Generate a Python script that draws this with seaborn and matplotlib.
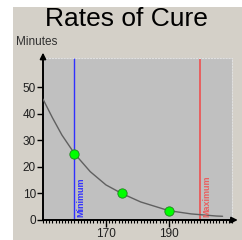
import matplotlib
matplotlib.use("Agg")
import matplotlib.pyplot as plt
import seaborn as sns
from matplotlib.patches import Rectangle
from matplotlib.ticker import MultipleLocator

# curve (temperature vs minutes)
curve_temp = [150, 153, 156, 160, 165, 170, 175, 181, 190, 197, 205, 207]
curve_minutes = [45.5, 38.5, 32, 25, 18.2, 13.2, 10, 6.8, 3.5, 2.3, 1.5, 1.4]

# measured points
point_temp = [160, 175, 190]
point_minutes = [25, 10, 3.5]

min_temp = 160
max_temp = 200

sns.set_style("white")
plt.rcParams["font.family"] = ["Liberation Sans", "DejaVu Sans"]

fig = plt.figure(figsize=(2.42, 2.40), dpi=100, facecolor="white")
fig.patches.append(Rectangle((13 / 242, 0), 1, 1 - 7 / 240, transform=fig.transFigure,
                             facecolor="#d4d0c8", edgecolor="none", zorder=-10))
ax = fig.add_axes([43 / 242, 1 - 220 / 240, (232 - 43) / 242, (220 - 58) / 240])
ax.set_facecolor("#c0c0c0")

sns.lineplot(x=curve_temp, y=curve_minutes, ax=ax, color="#606060", linewidth=1.0, zorder=3)
sns.scatterplot(x=point_temp, y=point_minutes, ax=ax, color="#00ff00", edgecolor="#208020",
                s=45, linewidth=0.6, zorder=5)

ax.axvline(min_temp, color="#3030ff", linewidth=1.0, zorder=2)
ax.axvline(max_temp, color="#e86060", linewidth=1.4, zorder=2)
ax.text(min_temp + 0.6, 1.0, "Minimum", rotation=90, color="#3030ff", fontsize=6.5,
        fontweight="bold", ha="left", va="bottom")
ax.text(max_temp + 0.6, 1.0, "Maximum", rotation=90, color="#e86060", fontsize=6.5,
        fontweight="bold", ha="left", va="bottom")

ax.set_xlim(150, 210)
ax.set_ylim(0, 61)
ax.set_xticks([170, 190])
ax.xaxis.set_minor_locator(MultipleLocator(1))
ax.set_yticks([0, 10, 20, 30, 40, 50])
ax.tick_params(axis="both", which="major", labelsize=8.5, color="black", direction="out",
               length=4, width=1, pad=1, labelcolor="#202020")
ax.tick_params(axis="x", which="minor", direction="out", length=2.5, width=0.8, color="black",
               bottom=True)
ax.tick_params(axis="x", which="major", length=5, bottom=True)
ax.tick_params(axis="y", which="major", left=True)

for side in ["left", "bottom"]:
    ax.spines[side].set_color("black")
    ax.spines[side].set_linewidth(1.4)
for side in ["top", "right"]:
    ax.spines[side].set_color("#e0e0e0")
    ax.spines[side].set_linestyle(":")
    ax.spines[side].set_linewidth(0.8)

# axis arrows
ax.annotate("", xy=(0, 1.05), xytext=(0, 0.99), xycoords="axes fraction",
            arrowprops=dict(arrowstyle="-|>", color="black", lw=1.2, mutation_scale=9),
            annotation_clip=False)
ax.annotate("", xy=(1.045, 0), xytext=(0.99, 0), xycoords="axes fraction",
            arrowprops=dict(arrowstyle="-|>", color="black", lw=1.2, mutation_scale=9),
            annotation_clip=False)

fig.text(126 / 242, 1 - 19 / 240, "Rates of Cure", ha="center", va="center", fontsize=19,
         color="black")
fig.text(16 / 242, 1 - 42 / 240, "Minutes", ha="left", va="center", fontsize=8.5,
         color="#303030")

fig.savefig("out.png", dpi=100, facecolor=fig.get_facecolor())
